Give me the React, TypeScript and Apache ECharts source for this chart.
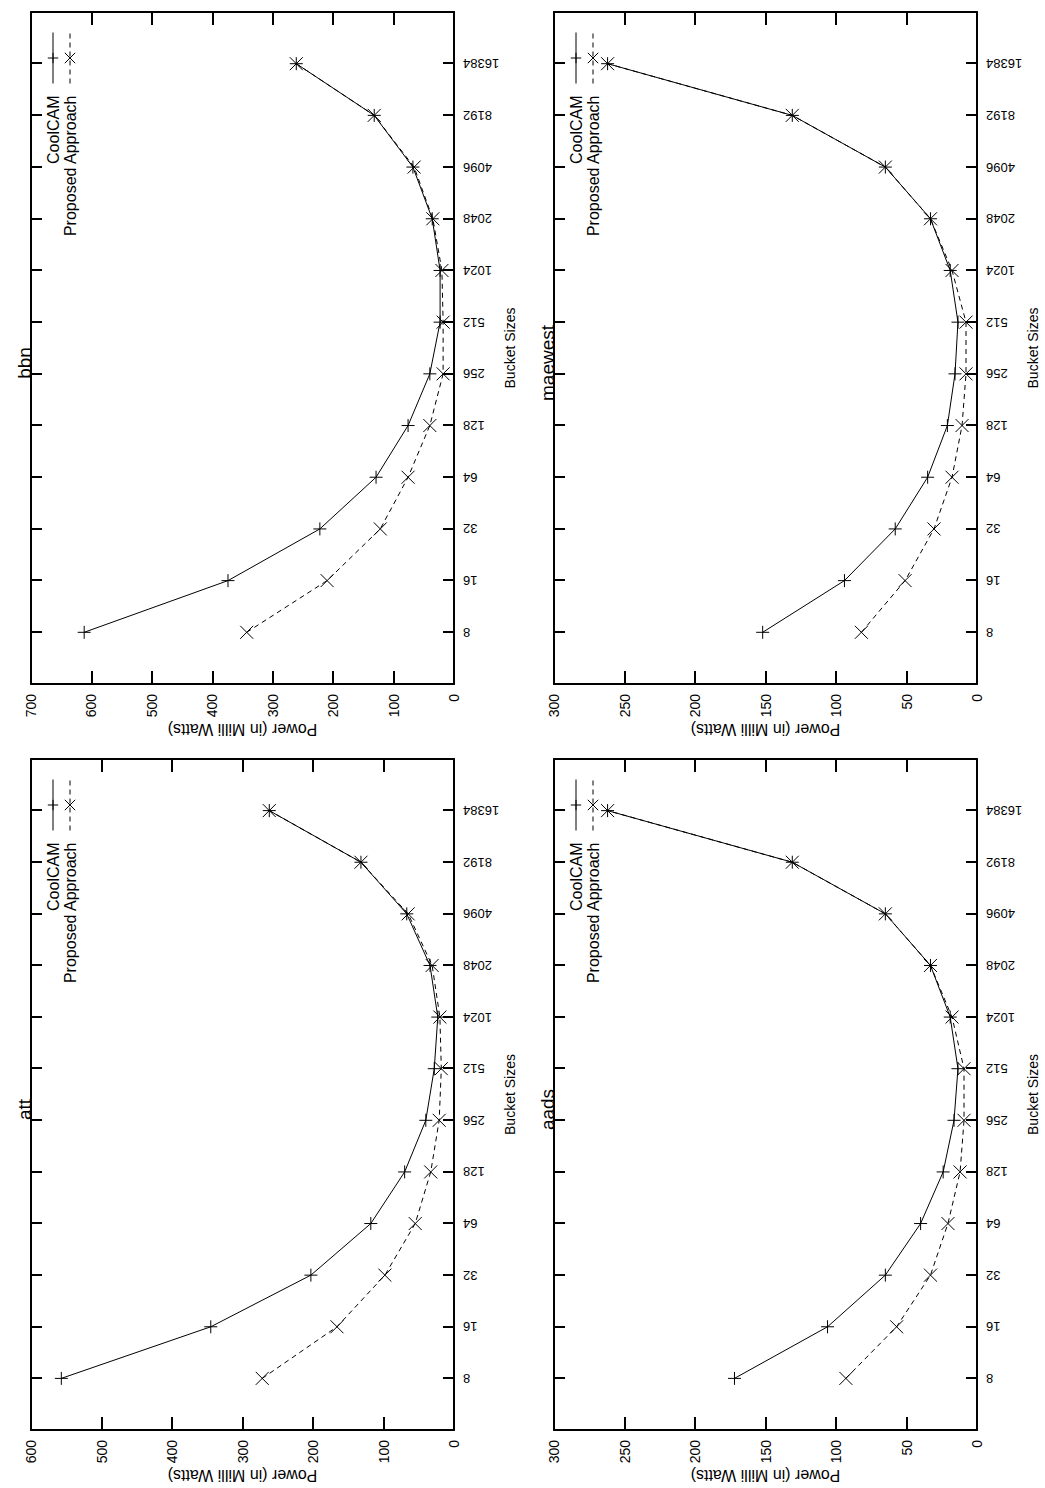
import React, { useEffect, useRef } from 'react';
import * as echarts from 'echarts';

// ---------- data ----------
const bucketSizes = ['8', '16', '32', '64', '128', '256', '512', '1024', '2048', '4096', '8192', '16384'];
// log2 axis padded one step on each side (frame edges)
const axisCategories = ['4', ...bucketSizes, '32768'];

const bbnCoolCAM = [612, 374, 222, 129, 76, 40, 23, 23, 36, 68, 132, 261];
const bbnProposed = [343, 210, 122, 76, 40, 18, 18, 20, 35, 66, 132, 261];

const maewestCoolCAM = [152, 94, 58, 35, 21, 15.6, 13.5, 19, 33, 65, 131, 262];
const maewestProposed = [82, 51, 30.5, 17.7, 10.6, 7.8, 7.8, 17.7, 33, 65, 131, 262];

const attCoolCAM = [557, 345, 203, 118, 70, 40, 28, 23, 34, 67, 132, 262];
const attProposed = [272, 166, 98, 55, 33, 21, 18, 20, 31, 65, 132, 262];

const aadsCoolCAM = [172, 106, 65, 40, 24, 16.3, 13.5, 19, 33, 65, 131, 262];
const aadsProposed = [93, 57, 33, 20.6, 12, 9.2, 9.2, 17.7, 33, 65, 131, 262];

const seriesNames = ['CoolCAM', 'Proposed Approach'];
const xAxisName = 'Bucket Sizes';
const yAxisName = 'Power (in Milli Watts)';

// ---------- layout (upright frame, later rotated -90deg) ----------
const W = 1488;
const H = 1045;
const FONT = '"Liberation Sans", Arial, Helvetica, sans-serif';

const panels = [
  { title: 'bbn', max: 700, step: 100, cool: bbnCoolCAM, prop: bbnProposed, left: 804, top: 31, width: 672 },
  { title: 'maewest', max: 300, step: 50, cool: maewestCoolCAM, prop: maewestProposed, left: 804, top: 554, width: 672 },
  { title: 'att', max: 600, step: 100, cool: attCoolCAM, prop: attProposed, left: 58, top: 31, width: 671 },
  { title: 'aads', max: 300, step: 50, cool: aadsCoolCAM, prop: aadsProposed, left: 58, top: 554, width: 671 },
];
const GRID_H = 423;

const PLUS = 'path://M0,5L10,5M5,0L5,10';
const CROSS = 'path://M0,0L10,10M0,10L10,0';

function buildOption() {
  const black = '#000';
  const grid: any[] = [];
  const xAxis: any[] = [];
  const yAxis: any[] = [];
  const series: any[] = [];
  const legend: any[] = [];
  const graphic: any[] = [];

  panels.forEach((p, i) => {
    grid.push({ left: p.left, top: p.top, width: p.width, height: GRID_H, containLabel: false });
    const lineStyle = { color: black, width: 2 };
    const xBase = {
      gridIndex: i,
      type: 'category',
      data: axisCategories,
      boundaryGap: false,
      axisLine: { show: true, onZero: false, lineStyle },
      axisTick: { show: true, inside: true, length: 11, interval: 0, lineStyle },
      splitLine: { show: false },
    };
    xAxis.push({
      ...xBase,
      position: 'bottom',
      axisLabel: {
        show: true,
        rotate: 90,
        interval: 0,
        margin: 9,
        fontSize: 13,
        fontFamily: FONT,
        color: black,
        formatter: (v: string) => (v === '4' || v === '32768' ? '' : v),
      },
      name: xAxisName,
      nameLocation: 'middle',
      nameGap: 46,
      nameTextStyle: { fontSize: 14, fontFamily: FONT, color: black },
    });
    xAxis.push({ ...xBase, position: 'top', axisLabel: { show: false } });

    const yBase = {
      gridIndex: i,
      type: 'value',
      min: 0,
      max: p.max,
      interval: p.step,
      axisLine: { show: true, onZero: false, lineStyle },
      axisTick: { show: true, inside: true, length: 13, lineStyle },
      splitLine: { show: false },
    };
    yAxis.push({
      ...yBase,
      position: 'left',
      axisLabel: { show: true, margin: 10, fontSize: 14, fontFamily: FONT, color: black },
      name: yAxisName,
      nameLocation: 'middle',
      nameGap: 35,
      nameTextStyle: { fontSize: 16, fontFamily: FONT, color: black },
    });
    yAxis.push({ ...yBase, position: 'right', axisLabel: { show: false } });

    const xi = i * 2;
    const yi = i * 2;
    const common = {
      type: 'line',
      xAxisIndex: xi,
      yAxisIndex: yi,
      showAllSymbol: true,
      symbolSize: 13,
      itemStyle: { color: black, borderColor: black, borderWidth: 1 },
      emphasis: { disabled: true },
    };
    series.push({
      ...common,
      name: seriesNames[0],
      symbol: PLUS,
      lineStyle: { color: black, width: 1, type: 'solid' },
      data: bucketSizes.map((b, k) => [b, p.cool[k]]),
    });
    series.push({
      ...common,
      name: seriesNames[1],
      symbol: CROSS,
      lineStyle: { color: black, width: 1, type: [5, 4] },
      data: bucketSizes.map((b, k) => [b, p.prop[k]]),
    });

    legend.push({
      orient: 'vertical',
      align: 'right',
      right: W - (p.left + p.width - 20),
      top: p.top + 14,
      padding: 0,
      itemWidth: 51,
      itemHeight: 13,
      itemGap: 1,
      selectedMode: false,
      lineStyle: { width: 1 },
      itemStyle: { borderWidth: 1 },
      textStyle: { fontSize: 16, fontFamily: FONT, color: black, padding: [0, 7, 0, 0] },
      data: seriesNames,
    });

    graphic.push({
      type: 'text',
      x: p.left + p.width / 2 - 15,
      y: p.top + 3,
      style: {
        text: p.title,
        fontSize: 19,
        fontFamily: FONT,
        fill: black,
        align: 'center',
        verticalAlign: 'bottom',
      },
    });
  });

  return {
    animation: false,
    backgroundColor: '#fff',
    grid,
    xAxis,
    yAxis,
    series,
    legend,
    graphic,
  };
}

export default function App() {
  const ref = useRef<HTMLDivElement>(null);
  useEffect(() => {
    if (!ref.current) return;
    const chart = echarts.init(ref.current, null, { renderer: 'svg', width: W, height: H });
    chart.setOption(buildOption());
    return () => chart.dispose();
  }, []);
  return (
    <div
      style={{
        position: 'absolute',
        left: 0,
        top: 0,
        width: H,
        height: W,
        overflow: 'hidden',
        background: '#fff',
      }}
    >
      <div
        ref={ref}
        style={{
          position: 'absolute',
          left: 0,
          top: 0,
          width: W,
          height: H,
          transformOrigin: '0 0',
          transform: `translateY(${W}px) rotate(-90deg)`,
        }}
      />
    </div>
  );
}
